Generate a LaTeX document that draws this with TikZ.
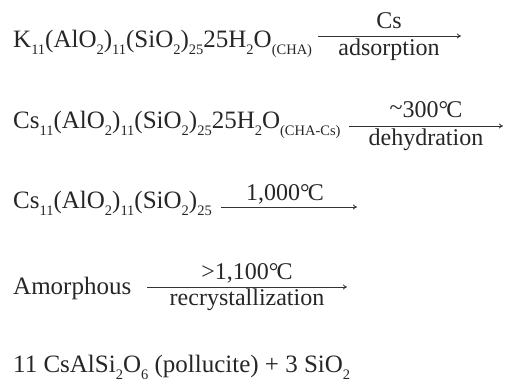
\documentclass[tikz,border=0pt]{standalone}
\usepackage{fontspec}
\setmainfont{Liberation Serif}
\usetikzlibrary{arrows.meta}
\newcommand{\sbs}[1]{\raisebox{-0.3em}{\fontsize{14.5}{15}\selectfont #1}}
\newcommand{\degc}{\textdegree\kern-0.08em C}
\begin{document}
\begin{tikzpicture}[x=1pt,y=-1pt,
  chem/.style={anchor=base west, inner sep=0pt, text=black!85, font=\fontsize{25}{28}\selectfont},
  lbl/.style={inner sep=0pt, text=black!85, font=\fontsize{24}{27}\selectfont},
  rxn/.style={line width=0.8pt, -{To[length=4pt,width=5pt]}, draw=black!80}]
\useasboundingbox (0,0) rectangle (505,383);
% line 1
\node[chem] (r1) at (13,47) {K\sbs{11}(AlO\sbs{2})\sbs{11}(SiO\sbs{2})\sbs{25}25H\sbs{2}O\sbs{(CHA)}};
\coordinate (a1s) at (318,36);
\coordinate (a1e) at (461,36);
\draw[rxn] (a1s) -- (a1e);
\node[lbl, anchor=base] (t1) at (389,28) {Cs};
\node[lbl, anchor=base] (b1) at (389,55) {adsorption};
% line 2
\node[chem] (r2) at (13,128) {Cs\sbs{11}(AlO\sbs{2})\sbs{11}(SiO\sbs{2})\sbs{25}25H\sbs{2}O\sbs{(CHA-Cs)}};
\coordinate (a2s) at (349,126);
\coordinate (a2e) at (503,126);
\draw[rxn] (a2s) -- (a2e);
\node[lbl, anchor=base] (t2) at (426,117) {\raisebox{0.1ex}{\textasciitilde}300\degc};
\node[lbl, anchor=base] (b2) at (426,145) {dehydration};
% line 3
\node[chem] (r3) at (13,208) {Cs\sbs{11}(AlO\sbs{2})\sbs{11}(SiO\sbs{2})\sbs{25}};
\coordinate (a3s) at (221,207);
\coordinate (a3e) at (357,207);
\draw[rxn] (a3s) -- (a3e);
\node[lbl, anchor=base] (t3) at (285,200) {1,000\degc};
% line 4
\node[chem] (r4) at (13,294) {Amorphous};
\coordinate (a4s) at (147,287);
\coordinate (a4e) at (347,287);
\draw[rxn] (a4s) -- (a4e);
\node[lbl, anchor=base] (t4) at (247,279) {{>}1,100\degc};
\node[lbl, anchor=base] (b4) at (247,305) {recrystallization};
% line 5
\node[chem] (r5) at (13,372) {11 CsAlSi\sbs{2}O\sbs{6} (pollucite) + 3 SiO\sbs{2}};
\end{tikzpicture}
\end{document}
